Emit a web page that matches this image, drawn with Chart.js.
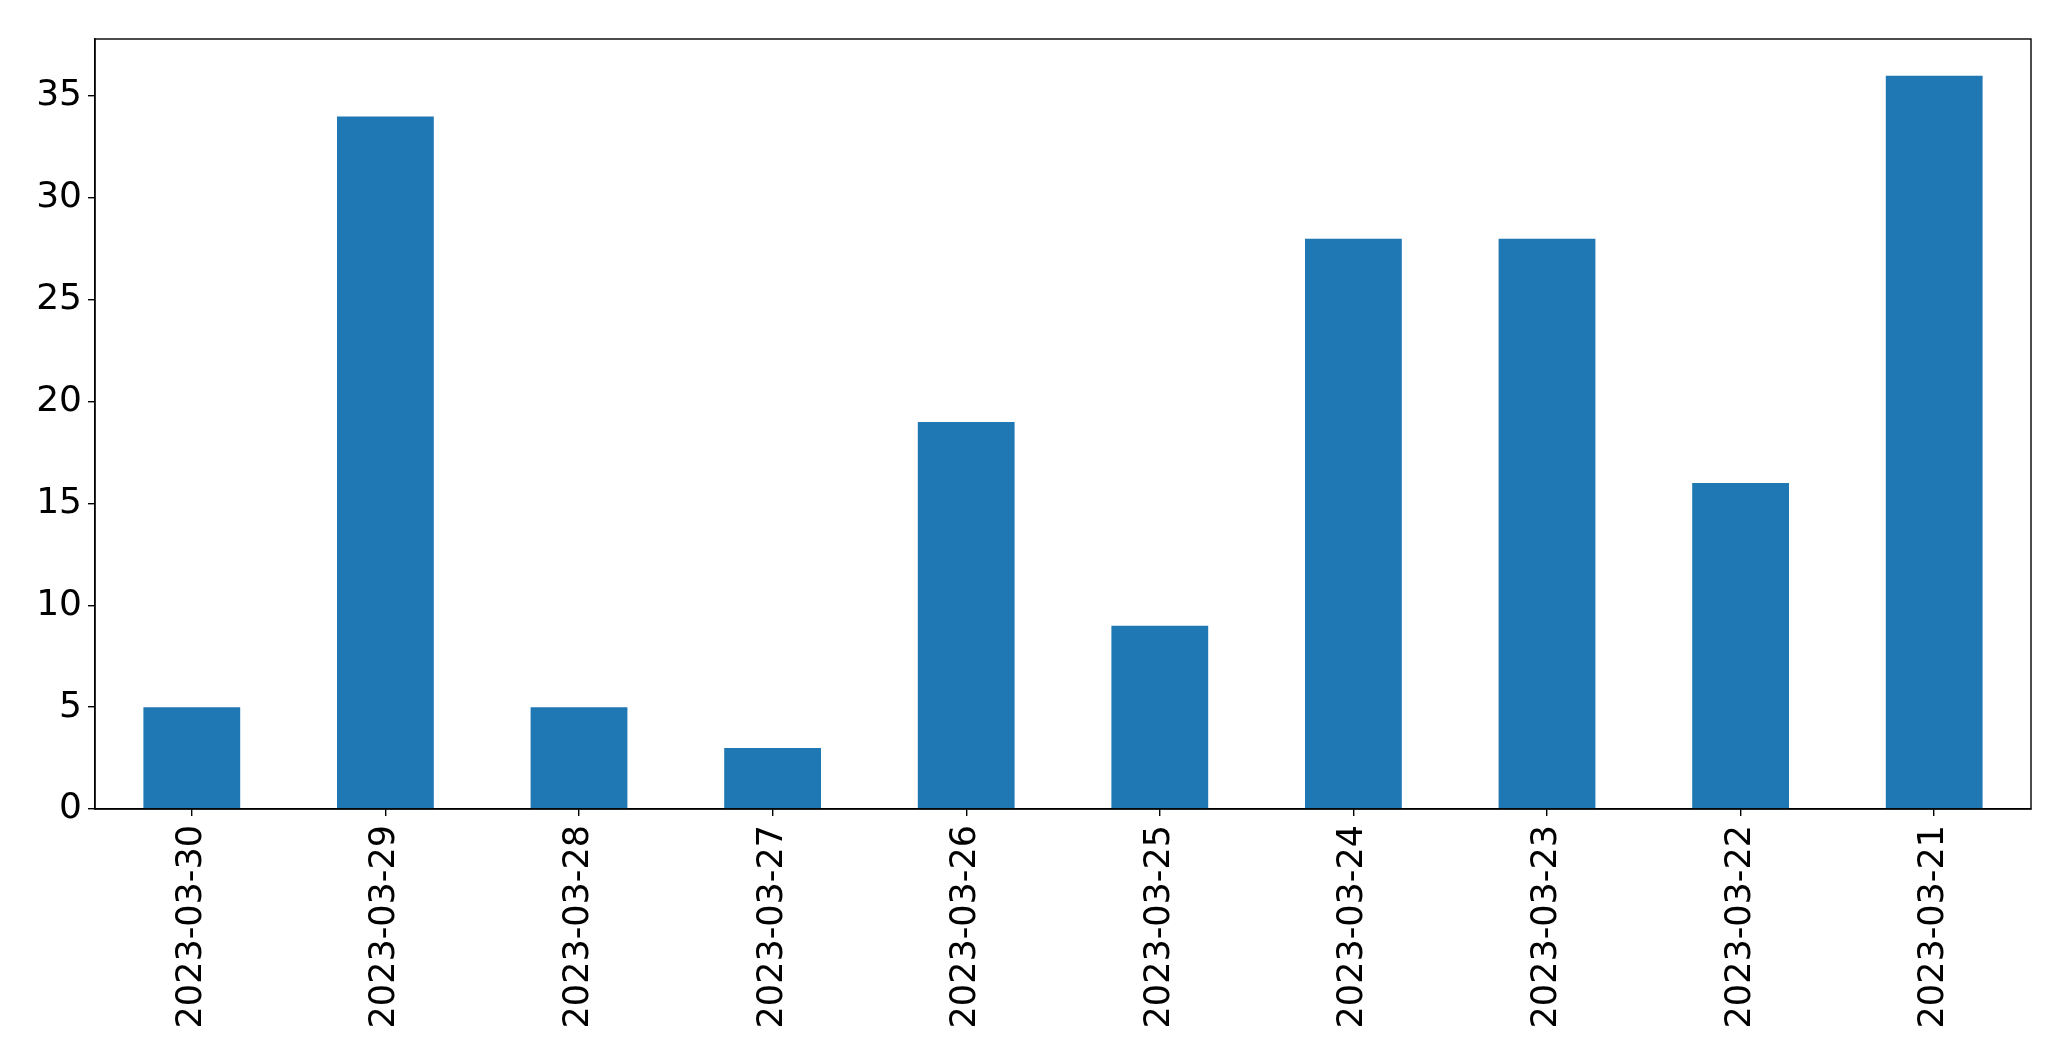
<!DOCTYPE html>
<html>
<head>
<meta charset="utf-8">
<script src="https://cdn.jsdelivr.net/npm/chart.js@4/dist/chart.umd.min.js"></script>
<style>
    html, body { margin: 0; padding: 0; background: #fff; }
    #wrap { width: 2071px; height: 1061px; }
</style>
</head>
<body>
<div id="wrap"><canvas id="chart" width="2071" height="1061"></canvas></div>
<script>
const dates = ['2023-03-30', '2023-03-29', '2023-03-28', '2023-03-27', '2023-03-26',
    '2023-03-25', '2023-03-24', '2023-03-23', '2023-03-22', '2023-03-21'];
const counts = [5, 34, 5, 3, 19, 9, 28, 28, 16, 36];
const yTicks = [0, 5, 10, 15, 20, 25, 30, 35];
const yMax = 37.8;

// matplotlib-style box around the plot area
const frame = {
    id: 'frame',
    afterDraw(chart) {
        const { ctx, chartArea: a } = chart;
        ctx.save();
        ctx.strokeStyle = '#000';
        ctx.lineWidth = 1.4;
        ctx.strokeRect(a.left, a.top, a.right - a.left, a.bottom - a.top);
        ctx.restore();
    }
};

Chart.defaults.font.family = '"DejaVu Sans", sans-serif';
Chart.defaults.color = '#000';

new Chart(document.getElementById('chart'), {
    type: 'bar',
    data: {
        labels: dates,
        datasets: [{
            data: counts,
            backgroundColor: '#1f77b4',
            barPercentage: 0.5,
            categoryPercentage: 1.0
        }]
    },
    options: {
        responsive: false,
        animation: false,
        layout: { padding: { left: 0, top: 39, right: 40, bottom: 0 } },
        plugins: { legend: { display: false }, tooltip: { enabled: false } },
        scales: {
            x: {
                grid: { display: true, offset: false, drawOnChartArea: false, drawTicks: true, tickLength: 7, color: '#000', lineWidth: 1.4 },
                border: { display: true, color: '#000', width: 1.4 },
                ticks: { font: { size: 35 }, minRotation: 90, maxRotation: 90, padding: 9, autoSkip: false },
                afterFit(axis) { axis.height = 252; }
            },
            y: {
                min: 0,
                max: yMax,
                grid: { display: true, drawOnChartArea: false, drawTicks: true, tickLength: 7, color: '#000', lineWidth: 1.4 },
                border: { display: true, color: '#000', width: 1.4 },
                ticks: { font: { size: 36 }, padding: 6 },
                afterBuildTicks(axis) { axis.ticks = yTicks.map(v => ({ value: v })); },
                afterFit(axis) { axis.width = 95; }
            }
        }
    },
    plugins: [frame]
});
</script>
</body>
</html>
